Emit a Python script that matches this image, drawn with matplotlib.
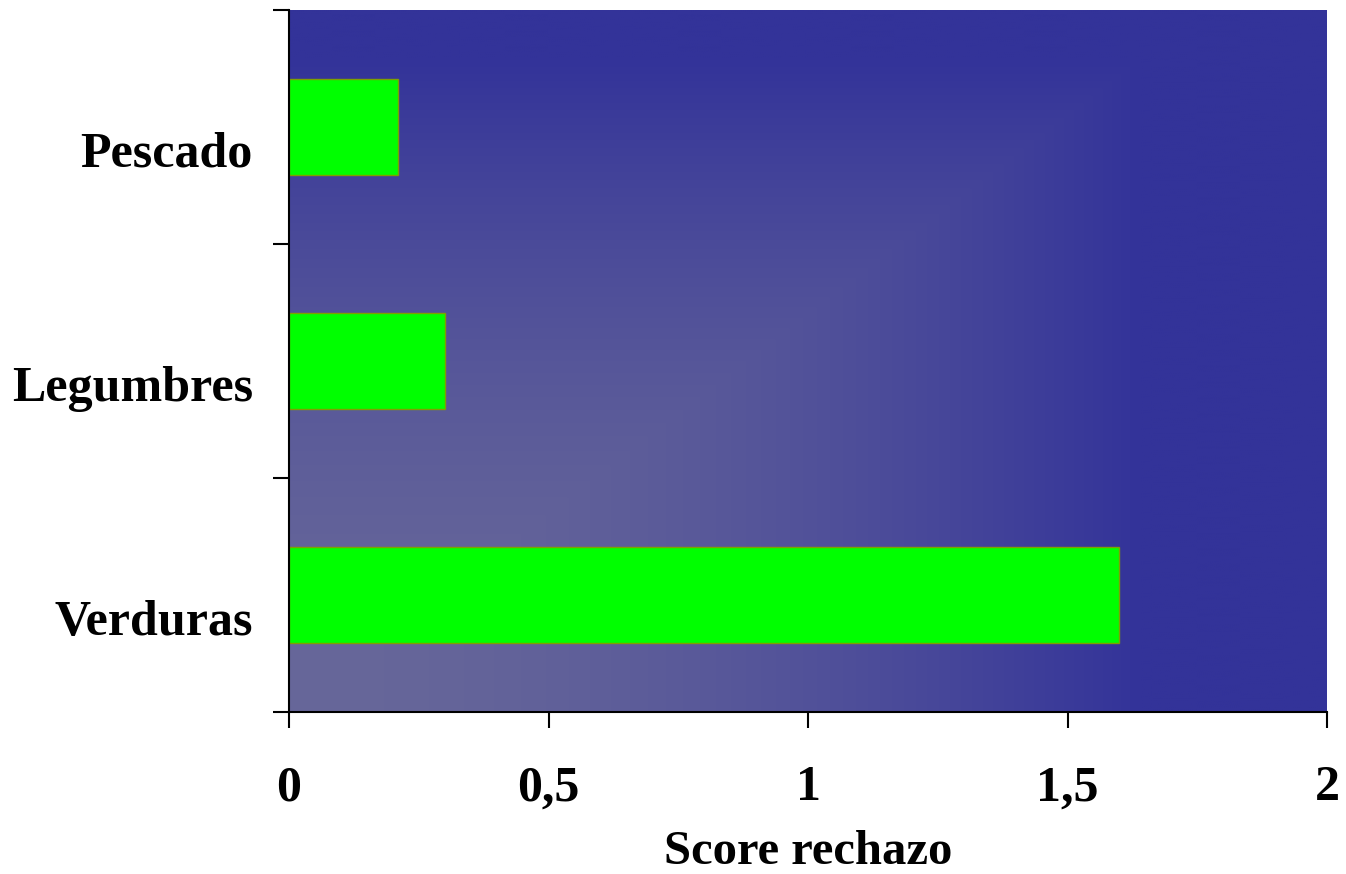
import numpy as np
import matplotlib
matplotlib.use("Agg")
import matplotlib.pyplot as plt
import matplotlib.transforms as mtransforms
from matplotlib.colors import to_rgb

# Puntaje de rechazo por grupo de alimento
categorias = ["Verduras", "Legumbres", "Pescado"]
score = [1.60, 0.30, 0.21]
xticks = [0, 0.5, 1, 1.5, 2]
xtick_labels = ["0", "0,5", "1", "1,5", "2"]

plt.rcParams["font.family"] = ["Liberation Serif", "DejaVu Serif"]
plt.rcParams["font.weight"] = "bold"

fig = plt.figure(figsize=(13.46, 8.74), dpi=100)
ax = fig.add_axes([289 / 1346, 1 - 712 / 874, 1038 / 1346, 702 / 874])

# fondo degradado: claro en la esquina inferior izquierda, azul oscuro arriba y a la derecha
u = np.linspace(0, 1, 600)
v = np.linspace(0, 1, 400)
U, V = np.meshgrid(u, v)
t = np.maximum(np.clip(U / 0.82, 0, 1), np.clip(V / 0.93, 0, 1))
f = t ** 1.8
claro = np.array(to_rgb("#67679a"))
oscuro = np.array(to_rgb("#333399"))
img = claro[None, None, :] * (1 - f[..., None]) + oscuro[None, None, :] * f[..., None]
ax.imshow(img, extent=[0, 2, -0.5, 2.5], origin="lower", aspect="auto", zorder=0,
          interpolation="bilinear")

y = np.arange(len(categorias))
ax.barh(y, score, height=0.41, color="#00ff00", edgecolor="#7f9f00", linewidth=1, zorder=2)

ax.set_xlim(0, 2)
ax.set_ylim(-0.5, 2.5)

ax.set_xticks(xticks)
ax.set_xticklabels(xtick_labels, fontsize=36, fontweight="bold")
ax.set_yticks([-0.5, 0.5, 1.5, 2.5])
ax.set_yticklabels([])
ax.set_yticks(y, minor=True)
ax.set_yticklabels(categorias, minor=True, fontsize=36, fontweight="bold")

ax.tick_params(axis="x", which="major", direction="out", length=11.5, width=1.5, pad=27)
ax.tick_params(axis="y", which="major", direction="out", length=11.5, width=1.5)
ax.tick_params(axis="y", which="minor", length=0, pad=26)

# las etiquetas de categoría van algo por debajo del centro de la barra
shift = mtransforms.ScaledTranslation(0, -22 / 100, fig.dpi_scale_trans)
for lbl in ax.get_yticklabels(minor=True):
    lbl.set_transform(lbl.get_transform() + shift)

for s in ["top", "right"]:
    ax.spines[s].set_visible(False)
for s in ["left", "bottom"]:
    ax.spines[s].set_linewidth(1.5)
    ax.spines[s].set_zorder(3)

ax.set_xlabel("Score rechazo", fontsize=35, fontweight="bold", labelpad=13)

fig.savefig("out.png", dpi=100)
